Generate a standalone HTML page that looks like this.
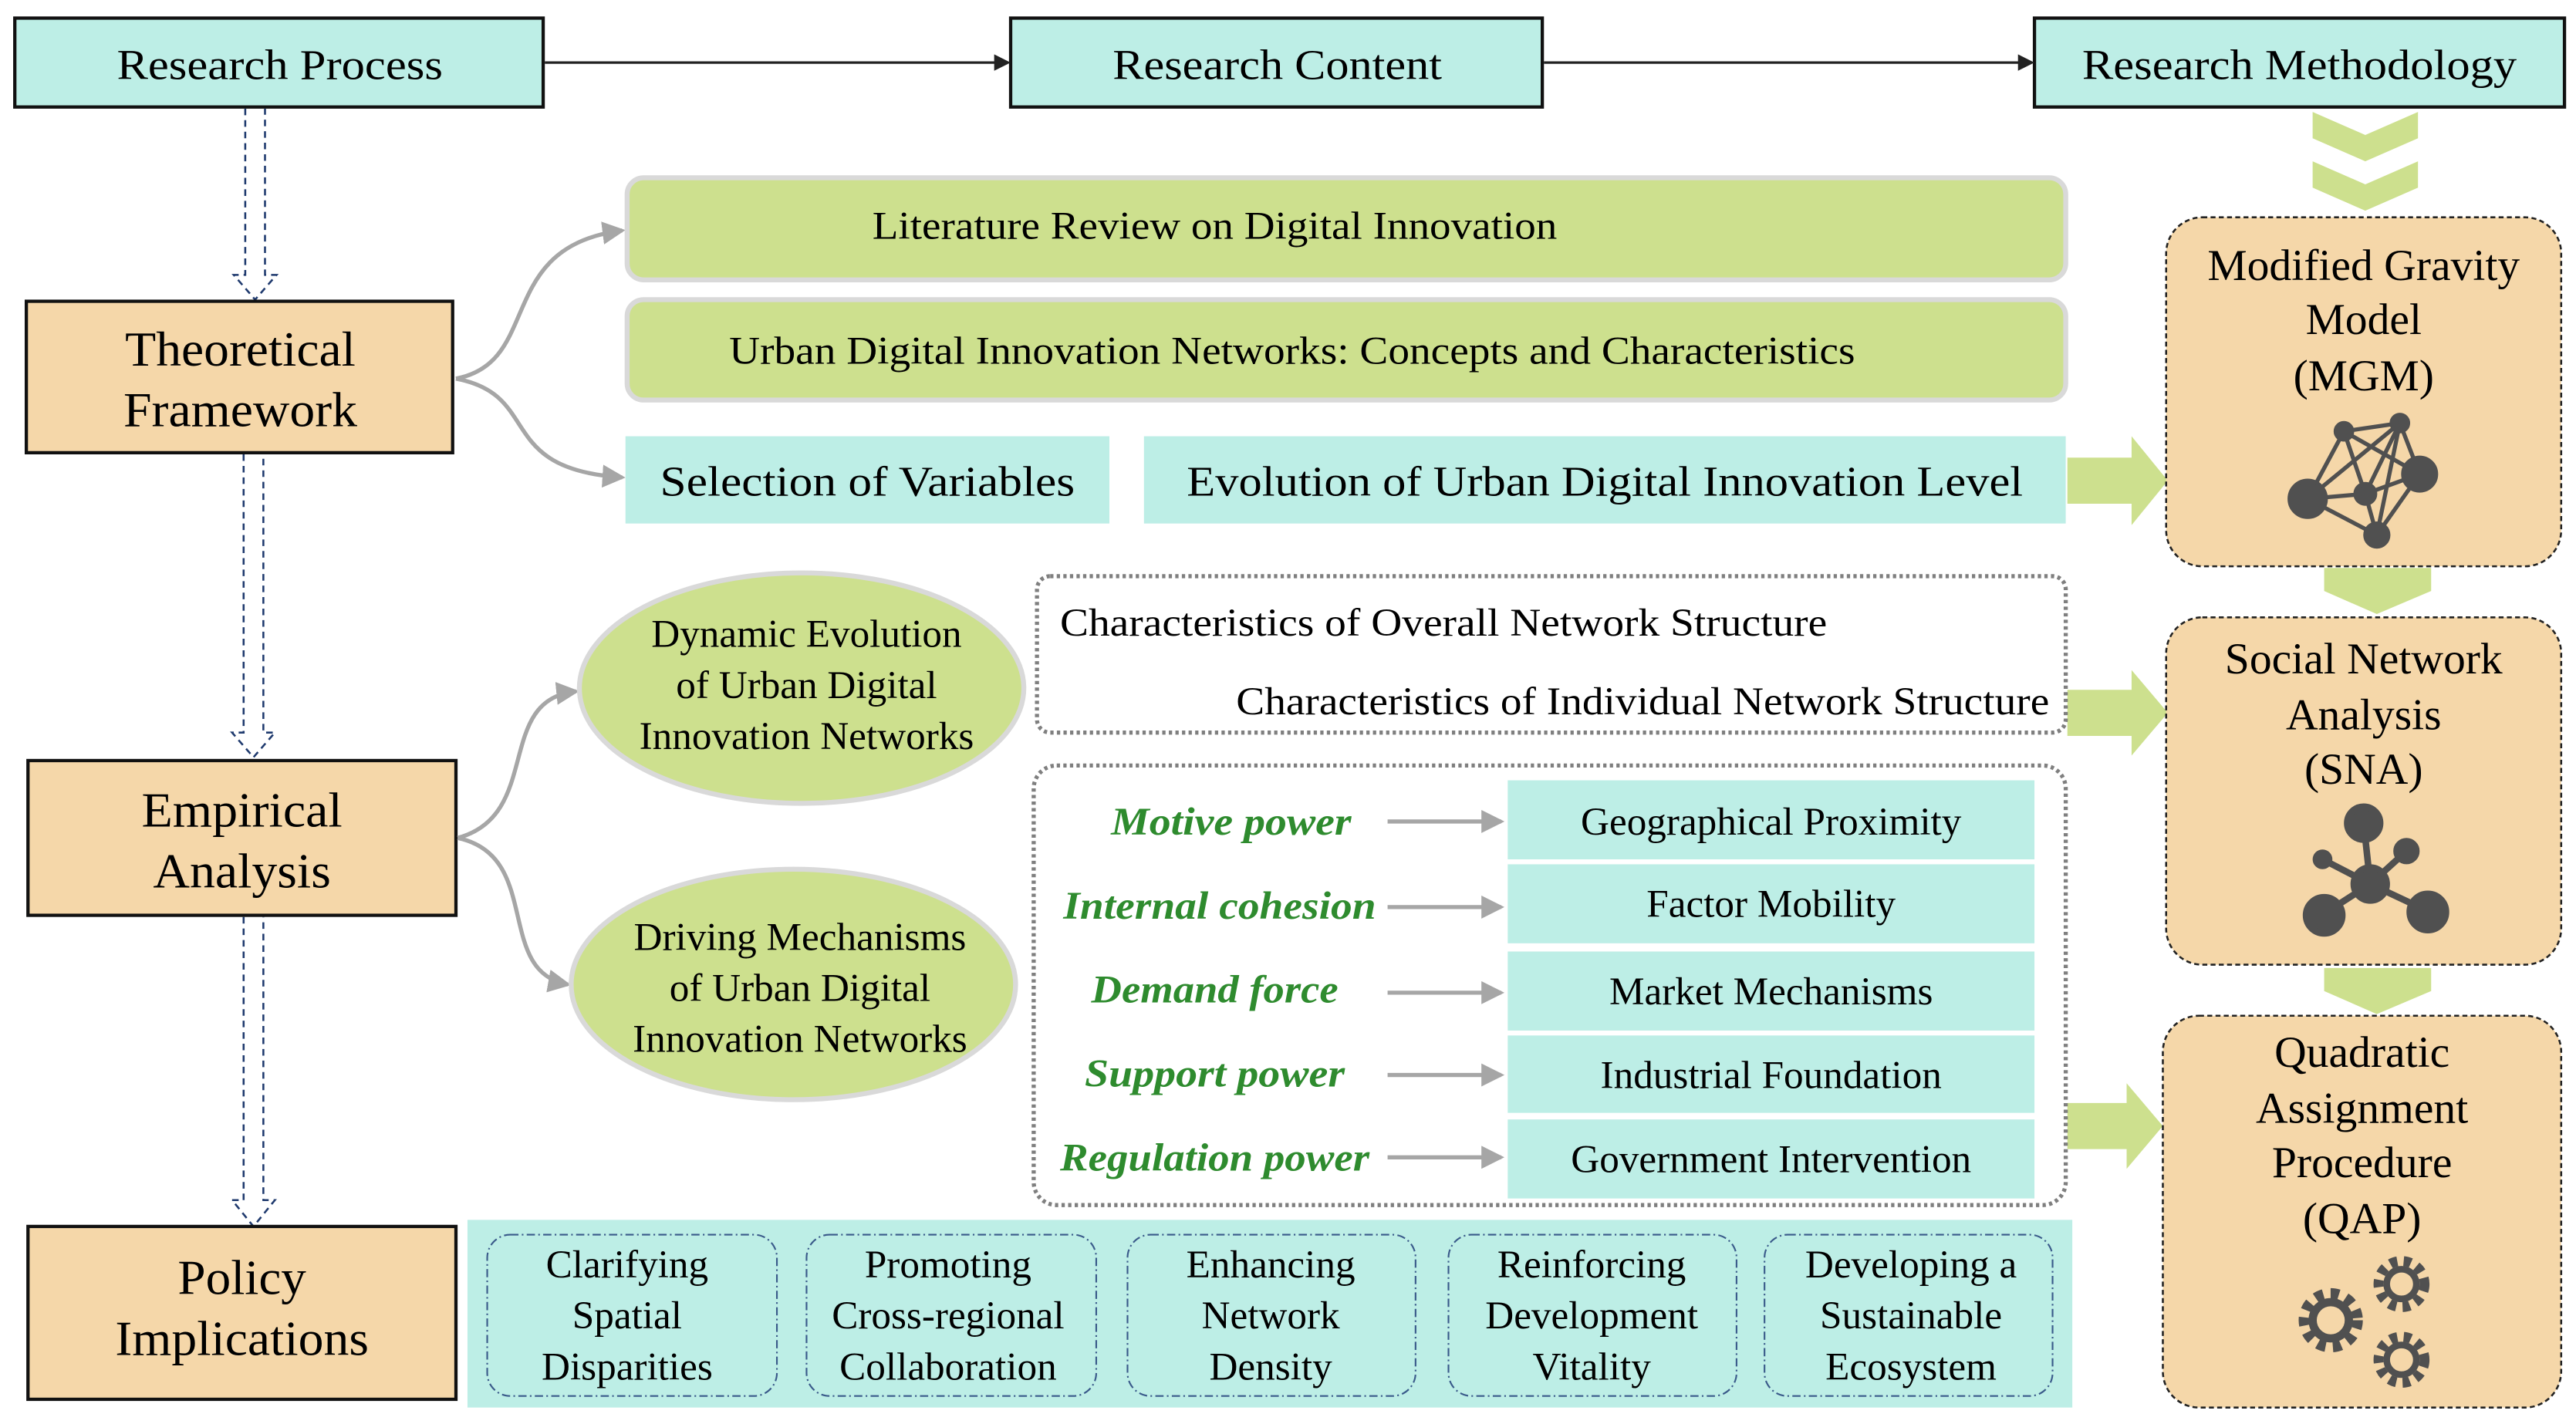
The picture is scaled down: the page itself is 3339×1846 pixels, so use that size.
<!DOCTYPE html>
<html><head><meta charset="utf-8"><style>html,body{margin:0;padding:0;background:#fff}svg{display:block}svg text{font-family:"Liberation Serif","Times New Roman",serif}</style></head><body>
<svg width="3339" height="1846" viewBox="0 0 1565 865" preserveAspectRatio="none" xmlns="http://www.w3.org/2000/svg" style="font-family:'Liberation Serif',serif">
<defs>
<marker id="ab" markerWidth="10" markerHeight="10" refX="8" refY="5" orient="auto" markerUnits="userSpaceOnUse"><path d="M0,0 L10,5 L0,10z" fill="#222"/></marker>
<marker id="ag" markerWidth="14" markerHeight="14" refX="12" refY="7" orient="auto" markerUnits="userSpaceOnUse"><path d="M0,0 L14,7 L0,14z" fill="#a6a6a6"/></marker>
</defs>
<g stroke="#111" stroke-width="2" fill="#bdeee6">
<rect x="9" y="11" width="321" height="54"/><rect x="614" y="11" width="323" height="54"/><rect x="1236" y="11" width="322" height="54"/>
</g>
<g font-size="26" text-anchor="middle" fill="#000">
<text x="170" y="48" textLength="198" lengthAdjust="spacingAndGlyphs">Research Process</text>
<text x="776" y="48" textLength="200" lengthAdjust="spacingAndGlyphs">Research Content</text>
<text x="1397" y="48" textLength="264" lengthAdjust="spacingAndGlyphs">Research Methodology</text>
</g>
<g stroke="#222" stroke-width="1.5"><line x1="331" y1="38" x2="612" y2="38" marker-end="url(#ab)"/><line x1="938" y1="38" x2="1234" y2="38" marker-end="url(#ab)"/></g>
<g stroke="#1f3a6e" stroke-width="1.2" stroke-dasharray="4,3" fill="none">
<path d="M149,66 V167 H142 L155,182 L168,167 H161 V66"/>
<path d="M148,276 V445 H141 L154,460 L167,445 H160 V276"/>
<path d="M148,557 V729 H141 L154,745 L167,729 H160 V557"/>
</g>
<g stroke="#111" stroke-width="2" fill="#f5d7a9">
<rect x="16" y="183" width="259" height="92"/><rect x="17" y="462" width="260" height="94"/><rect x="17" y="745" width="260" height="105"/>
</g>
<g font-size="30" text-anchor="middle">
<text x="146" y="222" textLength="140" lengthAdjust="spacingAndGlyphs">Theoretical</text><text x="146" y="259" textLength="142" lengthAdjust="spacingAndGlyphs">Framework</text>
<text x="147" y="502" textLength="122" lengthAdjust="spacingAndGlyphs">Empirical</text><text x="147" y="539" textLength="108" lengthAdjust="spacingAndGlyphs">Analysis</text>
<text x="147" y="786" textLength="78" lengthAdjust="spacingAndGlyphs">Policy</text><text x="147" y="823" textLength="154" lengthAdjust="spacingAndGlyphs">Implications</text>
</g>
<g stroke="#a6a6a6" stroke-width="2.5" fill="none">
<path d="M277,230 C330,220 300,150 378,140" marker-end="url(#ag)"/>
<path d="M277,230 C330,240 300,285 378,290" marker-end="url(#ag)"/>
<path d="M278,509 C330,495 300,425 350,420" marker-end="url(#ag)"/>
<path d="M278,509 C330,520 300,590 345,598" marker-end="url(#ag)"/>
</g>
<g fill="#cde08e" stroke="#d9d9d9" stroke-width="3">
<rect x="381" y="108" width="874" height="62" rx="10"/><rect x="381" y="182" width="874" height="61" rx="10"/>
</g>
<g font-size="24" text-anchor="middle">
<text x="738" y="145" textLength="416" lengthAdjust="spacingAndGlyphs">Literature Review on Digital Innovation</text>
<text x="785" y="221" textLength="684" lengthAdjust="spacingAndGlyphs">Urban Digital Innovation Networks: Concepts and Characteristics</text>
</g>
<g fill="#bdeee6"><rect x="380" y="265" width="294" height="53"/><rect x="695" y="265" width="560" height="53"/></g>
<g font-size="26" text-anchor="middle">
<text x="527" y="301" textLength="252" lengthAdjust="spacingAndGlyphs">Selection of Variables</text>
<text x="975" y="301" textLength="508" lengthAdjust="spacingAndGlyphs">Evolution of Urban Digital Innovation Level</text>
</g>
<g fill="#cde08e">
<path d="M1256,278 H1295 V265 L1317,292 L1295,319 V306 H1256z"/>
<path d="M1256,419 H1295 V407 L1317,433 L1295,459 V447 H1256z"/>
<path d="M1256,670 H1292 V658 L1314,684 L1292,710 V698 H1256z"/>
<path d="M1405,68 L1437,82 L1469,68 V84 L1437,98 L1405,84z"/>
<path d="M1405,98 L1437,112 L1469,98 V114 L1437,128 L1405,114z"/>
<path d="M1412,345 H1477 V359 L1444,373 L1412,359z"/>
<path d="M1412,588 H1477 V602 L1444,616 L1412,602z"/>
</g>
<g fill="#f5d7a9" stroke="#222" stroke-width="1.2" stroke-dasharray="3,2">
<rect x="1316" y="132" width="240" height="212" rx="22"/><rect x="1316" y="375" width="240" height="211" rx="22"/><rect x="1314" y="617" width="242" height="238" rx="22"/>
</g>
<g font-size="27" text-anchor="middle">
<text x="1436" y="170">Modified Gravity</text><text x="1436" y="203">Model</text><text x="1436" y="237">(MGM)</text>
<text x="1436" y="409">Social Network</text><text x="1436" y="443">Analysis</text><text x="1436" y="476">(SNA)</text>
<text x="1435" y="648">Quadratic</text><text x="1435" y="682">Assignment</text><text x="1435" y="715">Procedure</text><text x="1435" y="749">(QAP)</text>
</g>
<g stroke="#505050" stroke-width="2.5" fill="#505050">
<line x1="1402" y1="303" x2="1424" y2="262"/><line x1="1424" y1="262" x2="1458" y2="257"/><line x1="1424" y1="262" x2="1470" y2="288"/><line x1="1424" y1="262" x2="1437" y2="300"/><line x1="1402" y1="303" x2="1458" y2="257"/><line x1="1402" y1="303" x2="1437" y2="300"/><line x1="1402" y1="303" x2="1444" y2="325"/><line x1="1458" y1="257" x2="1437" y2="300"/><line x1="1458" y1="257" x2="1444" y2="325"/><line x1="1458" y1="257" x2="1470" y2="288"/><line x1="1437" y1="300" x2="1470" y2="288"/><line x1="1437" y1="300" x2="1444" y2="325"/><line x1="1470" y1="288" x2="1444" y2="325"/>
<circle cx="1402" cy="303" r="11"/><circle cx="1424" cy="262" r="5"/><circle cx="1458" cy="257" r="5"/><circle cx="1470" cy="288" r="10"/><circle cx="1437" cy="300" r="6"/><circle cx="1444" cy="325" r="7"/>
</g>
<g stroke="#505050" stroke-width="4" fill="#505050">
<line x1="1440" y1="537" x2="1436" y2="500"/><line x1="1440" y1="537" x2="1412" y2="555"/><line x1="1440" y1="537" x2="1474" y2="553"/><line x1="1440" y1="537" x2="1462" y2="517"/><line x1="1440" y1="537" x2="1411" y2="522"/>
<circle cx="1440" cy="537" r="10"/><circle cx="1436" cy="500" r="10"/><circle cx="1412" cy="556" r="11"/><circle cx="1475" cy="554" r="11"/><circle cx="1462" cy="517" r="6"/><circle cx="1411" cy="522" r="4"/>
</g>
<g fill="none" stroke="#505050">
<circle cx="1416" cy="802" r="16" stroke-width="7" stroke-dasharray="5,4.4"/><circle cx="1416" cy="802" r="11" stroke-width="5"/>
<circle cx="1459" cy="780" r="14" stroke-width="6" stroke-dasharray="4.5,3.9"/><circle cx="1459" cy="780" r="9" stroke-width="4"/>
<circle cx="1459" cy="826" r="14" stroke-width="6" stroke-dasharray="4.5,3.9"/><circle cx="1459" cy="826" r="9" stroke-width="4"/>
</g>
<g fill="#cde08e" stroke="#d9d9d9" stroke-width="3">
<ellipse cx="487" cy="418" rx="135" ry="70"/><ellipse cx="482" cy="598" rx="135" ry="70"/>
</g>
<g font-size="24" text-anchor="middle">
<text x="490" y="393">Dynamic Evolution</text><text x="490" y="424">of Urban Digital</text><text x="490" y="455">Innovation Networks</text>
<text x="486" y="577">Driving Mechanisms</text><text x="486" y="608">of Urban Digital</text><text x="486" y="639">Innovation Networks</text>
</g>
<g fill="none" stroke="#7f7f7f" stroke-width="2.5" stroke-dasharray="2,2">
<rect x="630" y="350" width="625" height="95" rx="8"/><rect x="628" y="465" width="627" height="267" rx="14"/>
</g>
<g font-size="24">
<text x="644" y="386" textLength="466" lengthAdjust="spacingAndGlyphs">Characteristics of Overall Network Structure</text>
<text x="751" y="434" textLength="494" lengthAdjust="spacingAndGlyphs">Characteristics of Individual Network Structure</text>
</g>
<g fill="#bdeee6">
<rect x="916" y="474" width="320" height="48"/><rect x="916" y="525" width="320" height="48"/><rect x="916" y="578" width="320" height="48"/><rect x="916" y="629" width="320" height="47"/><rect x="916" y="680" width="320" height="48"/>
</g>
<g font-size="24" text-anchor="middle">
<text x="1076" y="507">Geographical Proximity</text><text x="1076" y="557">Factor Mobility</text><text x="1076" y="610">Market Mechanisms</text><text x="1076" y="661">Industrial Foundation</text><text x="1076" y="712">Government Intervention</text>
</g>
<g font-size="24" text-anchor="middle" font-style="italic" font-weight="bold" fill="#2e8b2e">
<text x="748" y="507" textLength="146" lengthAdjust="spacingAndGlyphs">Motive power</text>
<text x="741" y="558" textLength="190" lengthAdjust="spacingAndGlyphs">Internal cohesion</text>
<text x="738" y="609" textLength="150" lengthAdjust="spacingAndGlyphs">Demand force</text>
<text x="738" y="660" textLength="158" lengthAdjust="spacingAndGlyphs">Support power</text>
<text x="738" y="711" textLength="188" lengthAdjust="spacingAndGlyphs">Regulation power</text>
</g>
<g stroke="#a6a6a6" stroke-width="2.5">
<line x1="843" y1="499" x2="912" y2="499" marker-end="url(#ag)"/><line x1="843" y1="551" x2="912" y2="551" marker-end="url(#ag)"/><line x1="843" y1="603" x2="912" y2="603" marker-end="url(#ag)"/><line x1="843" y1="653" x2="912" y2="653" marker-end="url(#ag)"/><line x1="843" y1="703" x2="912" y2="703" marker-end="url(#ag)"/>
</g>
<rect x="284" y="741" width="975" height="114" fill="#bdeee6"/>
<g fill="none" stroke="#3a5a8a" stroke-width="1" stroke-dasharray="5,2,1,2">
<rect x="296" y="750" width="176" height="98" rx="14"/><rect x="490" y="750" width="176" height="98" rx="14"/><rect x="685" y="750" width="175" height="98" rx="14"/><rect x="880" y="750" width="175" height="98" rx="14"/><rect x="1072" y="750" width="175" height="98" rx="14"/>
</g>
<g font-size="24" text-anchor="middle">
<text x="381" y="776">Clarifying</text><text x="381" y="807">Spatial</text><text x="381" y="838">Disparities</text>
<text x="576" y="776">Promoting</text><text x="576" y="807">Cross-regional</text><text x="576" y="838">Collaboration</text>
<text x="772" y="776">Enhancing</text><text x="772" y="807">Network</text><text x="772" y="838">Density</text>
<text x="967" y="776">Reinforcing</text><text x="967" y="807">Development</text><text x="967" y="838">Vitality</text>
<text x="1161" y="776">Developing a</text><text x="1161" y="807">Sustainable</text><text x="1161" y="838">Ecosystem</text>
</g>
</svg>
</body></html>
